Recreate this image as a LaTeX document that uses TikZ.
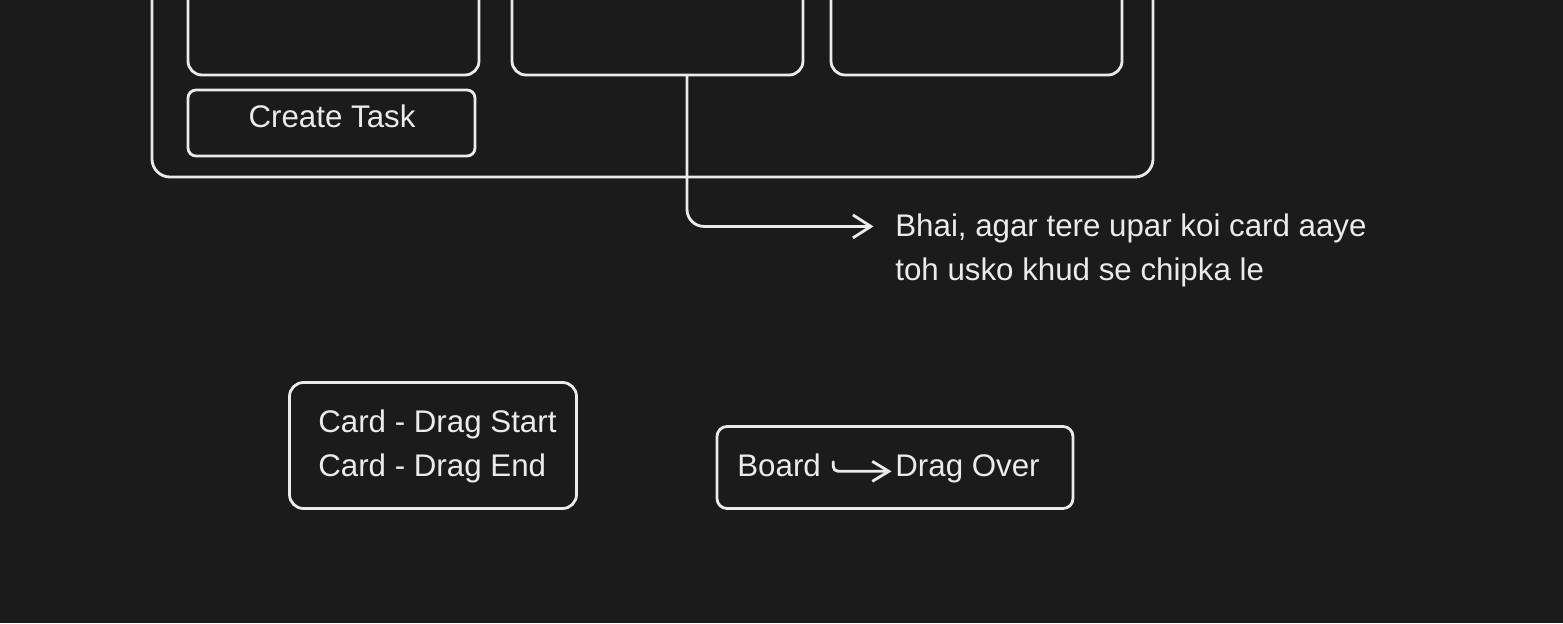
\documentclass[tikz,border=0pt]{standalone}
\usepackage{fontspec}
\setmainfont{Liberation Sans}
\usetikzlibrary{arrows.meta}
\definecolor{bgdark}{RGB}{27,27,27}
\definecolor{chalk}{RGB}{235,235,235}

\begin{document}
\begin{tikzpicture}[
  every node/.style={inner sep=0pt, text=chalk, font=\fontsize{17.8}{25}\selectfont},
  frame/.style={draw=chalk, line width=1.6pt, rounded corners=#1},
  link/.style={draw=chalk, line width=1.6pt, line cap=round, -{Straight Barb[length=0.36cm,width=0.46cm]}},
  shortlink/.style={draw=chalk, line width=1.6pt, line cap=round, -{Straight Barb[length=0.33cm,width=0.4cm]}}
]
\fill [bgdark] (0,0) rectangle (31.26,-12.46);
\useasboundingbox (0,0) rectangle (31.26,-12.46);
\clip (0,0) rectangle (31.26,-12.46);

\node [frame=0.36cm, minimum width=20.02cm, minimum height=6.14cm] (board) at (13.05,-0.47) {};
\node [frame=0.28cm, minimum width=5.82cm, minimum height=3.5cm] (col1) at (6.67,0.25) {};
\node [frame=0.28cm, minimum width=5.82cm, minimum height=3.5cm] (col2) at (13.15,0.25) {};
\node [frame=0.28cm, minimum width=5.82cm, minimum height=3.5cm] (col3) at (19.53,0.25) {};
\node [frame=0.16cm, minimum width=5.74cm, minimum height=1.32cm] (createbtn) at (6.63,-2.46) {};
\node [anchor=base] (createlbl) at (6.64,-2.54) {Create Task};

\node [anchor=base west] (hint1) at (17.9,-4.72) {Bhai, agar tere upar koi card aaye};
\node [anchor=base west] (hint2) at (17.9,-5.6) {toh usko khud se chipka le};
\draw [link, rounded corners=0.34cm] ([xshift=0.59cm]col2.south) |- ([xshift=-0.43cm,yshift=0.03cm]hint1.west);

\node [frame=0.28cm, minimum width=5.74cm, minimum height=2.52cm] (cardbox) at (8.66,-8.91) {};
\node [anchor=base west] (dragstart) at (6.36,-8.64) {Card - Drag Start};
\node [anchor=base west] (dragend) at (6.36,-9.52) {Card - Drag End};

\node [frame=0.2cm, minimum width=7.12cm, minimum height=1.64cm] (boardbox) at (17.9,-9.35) {};
\node [anchor=base west] (boardlbl) at (14.74,-9.52) {Board};
\node [anchor=base west] (dragover) at (17.9,-9.52) {Drag Over};
\draw [shortlink, rounded corners=0.1cm] ([xshift=0.24cm,yshift=0.06cm]boardlbl.east) |- ([xshift=-0.07cm,yshift=-0.06cm]dragover.west);
\end{tikzpicture}
\end{document}
